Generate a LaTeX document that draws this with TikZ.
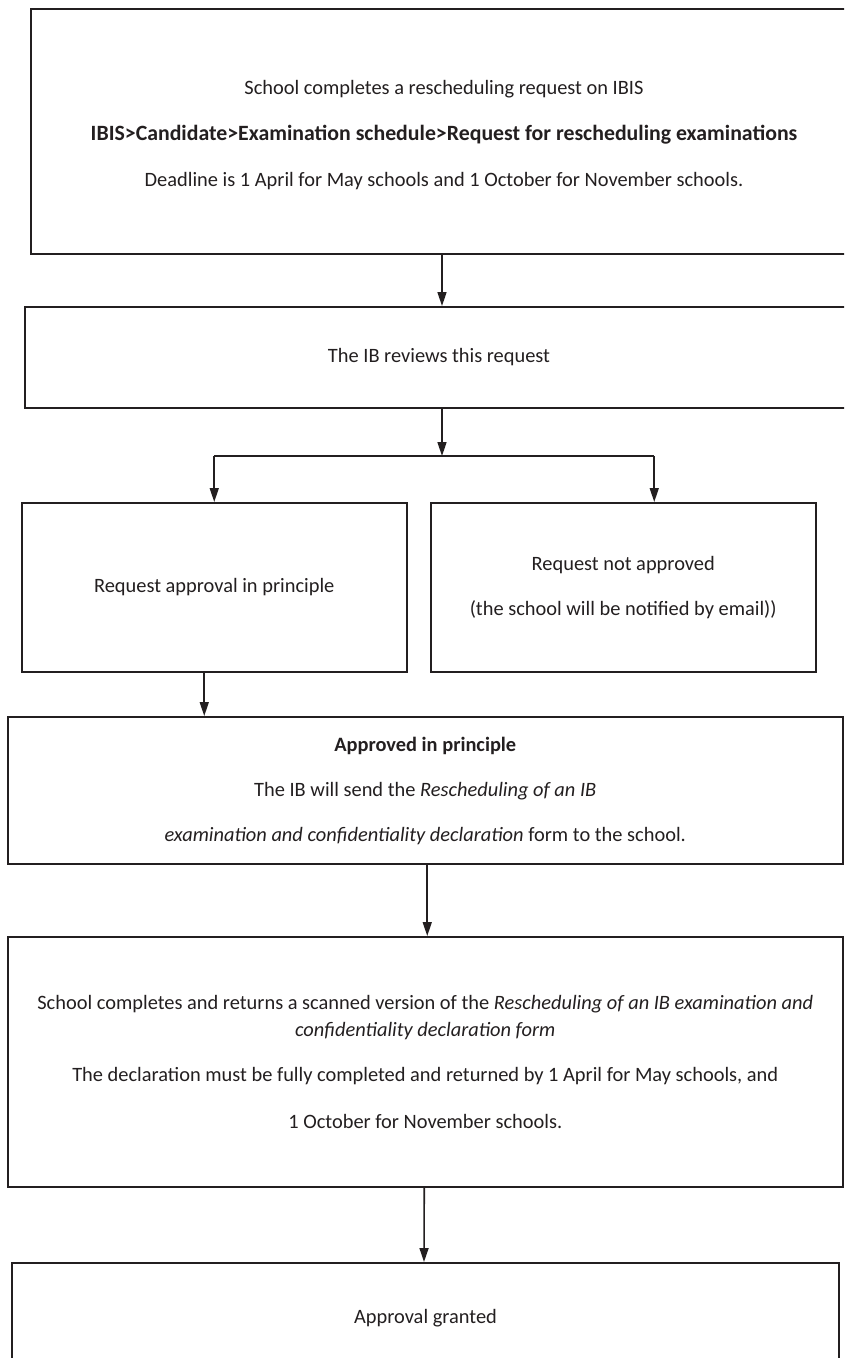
\documentclass[tikz,border=0pt]{standalone}
\usepackage{fontspec}
\setmainfont{Carlito}
\usetikzlibrary{arrows.meta,calc}
\definecolor{ink}{HTML}{231F20}
\newcommand{\bigbold}[1]{{\fontsize{21.8}{27}\selectfont\bfseries #1}}
\begin{document}
\begin{tikzpicture}[x=1pt,y=-1pt,
  box/.style={draw=ink, line width=2pt, rectangle, inner sep=0pt, align=center,
    text=ink, font=\fontsize{20.4}{27}\selectfont},
  txt/.style={inner sep=0pt, align=center, text=ink, font=\fontsize{20.4}{27}\selectfont},
  arr/.style={draw=ink, line width=1.6pt, -{Triangle[length=14pt,width=9pt]}},
  ln/.style={draw=ink, line width=1.6pt}]
\useasboundingbox (0,0) rectangle (844,1358);
\clip (0,0) rectangle (844,1358);
\fill[white] (0,0) rectangle (844,1358);

\node[box, minimum width=826pt, minimum height=245pt] (b1) at (444,131.5) {};
\node[txt] (t1) at (444,135)
  {School completes a rescheduling request on IBIS\\[19pt]
   \bigbold{IBIS>Candidate>Examination schedule>Request for rescheduling examinations}\\[19pt]
   Deadline is 1 April for May schools and 1 October for November schools.};

\node[box, minimum width=828pt, minimum height=101pt] (b2) at (439,357.5)
  {The IB reviews this request};

\node[box, minimum width=385.5pt, minimum height=169pt] (b3) at (214.25,587.5)
  {Request approval in principle};

\node[box, minimum width=385.5pt, minimum height=169pt] (b4) at (623.25,587.5)
  {Request not approved\\[18pt]
   (the school will be notified by email))};

\node[box, minimum width=835.5pt, minimum height=147pt] (b5) at (425.25,790.5)
  {\textbf{Approved in principle}\\[18pt]
   The IB will send the \textit{Rescheduling of an IB}\\[18pt]
   \textit{examination and confidentiality declaration} form to the school.};

\node[box, minimum width=835.5pt, minimum height=250pt] (b6) at (425.25,1062)
  {School completes and returns a scanned version of the \textit{Rescheduling of an IB examination and}\\
   \textit{confidentiality declaration form}\\[18pt]
   The declaration must be fully completed and returned by 1 April for May schools, and\\[20pt]
   1 October for November schools.};

\node[box, minimum width=827pt, minimum height=110pt, anchor=north] (b7) at (425.5,1262)
  {Approval granted};

% connectors
\draw[arr] ([xshift=-2pt]b1.south) -- ([xshift=3pt]b2.north);
\coordinate (j) at ([xshift=3pt,yshift=-47pt]b2.south);
\coordinate (jl) at (j -| b3.north);
\coordinate (jr) at ([xshift=31pt]j -| b4.north);
\draw[arr] ([xshift=3pt]b2.south) -- (j);
\draw[ln] (jl) -- (jr);
\draw[arr] (jl) -- (b3.north);
\draw[arr] (jr) -- (jr |- b4.north);
\draw[arr] ([xshift=-10pt]b3.south) -- ([xshift=-10pt]b3.south |- b5.north);
\draw[arr] ([xshift=2pt]b5.south) -- ([xshift=2pt]b6.north);
\draw[arr] ([xshift=-1pt]b6.south) -- ([xshift=-1.5pt]b7.north);
\end{tikzpicture}
\end{document}
